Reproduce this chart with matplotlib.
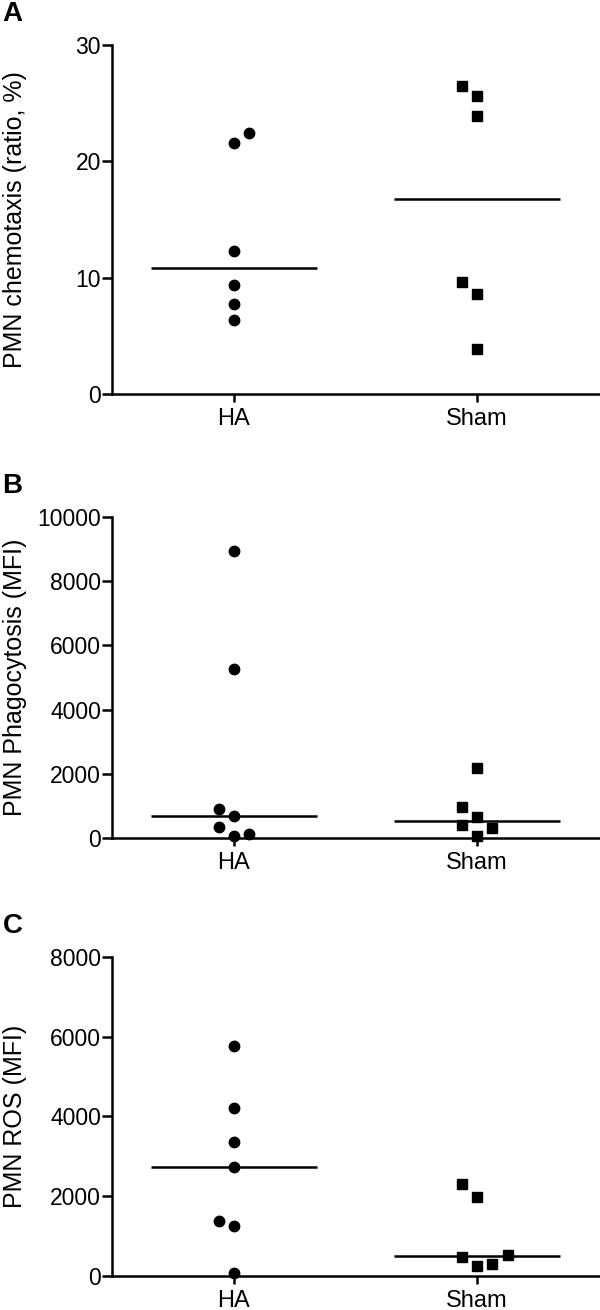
import numpy as np
import matplotlib.pyplot as plt

plt.rcParams["font.family"] = ["Liberation Sans", "DejaVu Sans"]

groups = ["HA", "Sham"]

# panel A: PMN chemotaxis (ratio, %)
chemo_ha = [22.4, 21.6, 12.3, 9.4, 7.7, 6.4]
chemo_ha_col = [1, 0, 0, 0, 0, 0]
chemo_sham = [26.5, 25.6, 23.9, 9.6, 8.6, 3.9]
chemo_sham_col = [-1, 0, 0, -1, 0, 0]

# panel B: PMN phagocytosis (MFI)
phago_ha = [8950, 5280, 890, 680, 340, 60, 125]
phago_ha_col = [0, 0, -1, 0, -1, 0, 1]
phago_sham = [2180, 980, 650, 400, 320, 60]
phago_sham_col = [0, -1, 0, -1, 1, 0]

# panel C: PMN ROS (MFI)
ros_ha = [5760, 4200, 3355, 2736, 1390, 1256, 66]
ros_ha_col = [0, 0, 0, 0, -1, 0, 0]
ros_sham = [2300, 1970, 480, 520, 250, 290]
ros_sham_col = [-1, 0, -1, 2, 0, 1]

panels = [
    ("A", "PMN chemotaxis (ratio, %)", chemo_ha, chemo_ha_col, chemo_sham, chemo_sham_col, [0, 10, 20, 30]),
    ("B", "PMN Phagocytosis (MFI)", phago_ha, phago_ha_col, phago_sham, phago_sham_col, [0, 2000, 4000, 6000, 8000, 10000]),
    ("C", "PMN ROS (MFI)", ros_ha, ros_ha_col, ros_sham, ros_sham_col, [0, 2000, 4000, 6000, 8000]),
]

# axes boxes in figure fraction: left, bottom, width, height
boxes = [
    (0.187, 0.6992, 0.811, 0.2664),
    (0.187, 0.3603, 0.811, 0.2450),
    (0.187, 0.0260, 0.811, 0.2435),
]

fig = plt.figure(figsize=(6, 13.1), dpi=100)
dx = 0.063

for (letter, ylabel, ha, ha_col, sham, sham_col, yticks), box in zip(panels, boxes):
    ax = fig.add_axes(box)
    ax.plot(1 + np.array(ha_col) * dx, ha, "o", color="black", ms=7.5, clip_on=False)
    ax.plot(2 + np.array(sham_col) * dx, sham, "s", color="black", ms=7, clip_on=False)
    for i, vals in enumerate([ha, sham]):
        ax.hlines(np.median(vals), i + 1 - 0.34, i + 1 + 0.34, color="black", lw=1.8)

    ax.set_xlim(0.5, 2.5)
    ax.set_ylim(yticks[0], yticks[-1])
    ax.set_yticks(yticks)
    ax.set_xticks([1, 2])
    ax.set_xticklabels(groups)
    ax.spines["top"].set_visible(False)
    ax.spines["right"].set_visible(False)
    ax.spines["left"].set_linewidth(1.8)
    ax.spines["bottom"].set_linewidth(1.8)
    ax.tick_params(axis="y", direction="out", length=7, width=1.8, labelsize=16.5, pad=1)
    ax.tick_params(axis="x", direction="out", length=6, width=1.8, labelsize=17, pad=4)
    ax.set_ylabel(ylabel, fontsize=18)
    ax.yaxis.set_label_coords(-0.175, 0.5)

    top = box[1] + box[3]
    fig.text(0.004, top + 0.0335, letter, fontsize=20, fontweight="bold", va="top", ha="left")

plt.savefig("out.png", dpi=100)
